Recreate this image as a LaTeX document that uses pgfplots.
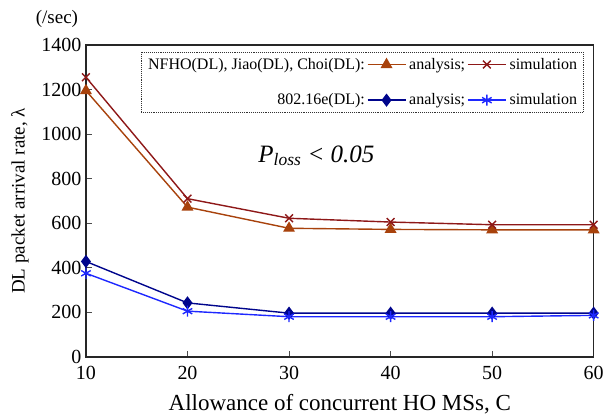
\documentclass[border=0pt]{standalone}
\usepackage{pgfplots}
\pgfplotsset{compat=1.18}
\usepackage{fontspec}
\setmainfont{Liberation Serif}
\definecolor{brnA}{HTML}{A8420C}
\definecolor{redS}{HTML}{8E1818}
\definecolor{navA}{HTML}{00058C}
\definecolor{bluS}{HTML}{1E28FF}

\begin{document}
\begin{tikzpicture}
\begin{axis}[
    scale only axis,
    width=508pt, height=312pt,
    clip=false,
    xmin=10, xmax=60, ymin=0, ymax=1400,
    xtick={10,20,...,60}, ytick={0,200,...,1400},
    xticklabels={10,20,30,40,50,60},
    yticklabels={0,200,400,600,800,1000,1200,1400},
    tick pos=left, tick align=inside,
    major tick length=6pt,
    axis line style={line width=1.5pt, black!85},
    tick style={line width=0.8pt, black!70},
    tick label style={font=\fontsize{20}{20}\selectfont},
    xticklabel style={yshift=-6pt},
    yticklabel style={xshift=-1pt},
    xlabel={Allowance of concurrent HO MSs, C},
    ylabel={DL packet arrival rate, λ},
    xlabel style={font=\fontsize{23}{23}\selectfont, yshift=-8pt},
    ylabel style={font=\fontsize{19}{19}\selectfont, yshift=6pt},
    legend columns=3,
    legend cell align=right,
    legend style={at={(0.980,0.978)}, anchor=north east,
        draw=black!80, densely dotted, line width=0.9pt,
        font=\fontsize{16}{16}\selectfont,
        row sep=19pt, column sep=1pt, inner sep=4pt,
        /tikz/every even column/.append style={column sep=0pt}},
    legend image code/.code={\draw[mark repeat=2,mark phase=2,solid,#1]
        plot coordinates {(0pt,0pt) (19pt,0pt) (38pt,0pt)};},
    every axis plot/.append style={line width=1.4pt},
]
\addlegendimage{empty legend}
\addlegendentry{NFHO(DL), Jiao(DL), Choi(DL):}
\addplot[brnA, mark=triangle*, mark size=5.5pt] coordinates {
    (10,1195) (20,672) (30,577) (40,572) (50,570) (60,570)};
\addlegendentry{analysis;}
\addplot[redS, mark=x, mark size=5.5pt, mark options={line width=1.4pt}] coordinates {
    (10,1255) (20,710) (30,622) (40,605) (50,593) (60,593)};
\addlegendentry{simulation}
\addlegendimage{empty legend}
\addlegendentry{802.16e(DL):}
\addplot[navA, mark=diamond*, mark size=5.5pt] coordinates {
    (10,428) (20,242) (30,196) (40,196) (50,196) (60,196)};
\addlegendentry{analysis;}
\addplot[bluS, mark=asterisk, mark size=5.5pt, mark options={line width=1.4pt}] coordinates {
    (10,375) (20,205) (30,180) (40,180) (50,180) (60,186)};
\addlegendentry{simulation}
\node[font=\fontsize{25}{25}\selectfont\itshape] at (axis cs:32.7,902)
    {P\textsubscript{loss} {<} 0.05};
\node[font=\fontsize{19}{19}\selectfont] at (axis description cs:0,1)
    [xshift=-29pt, yshift=26pt] {(/sec)};
\end{axis}
\path ([xshift=-86pt,yshift=-61pt]current axis.south west) rectangle
      ([xshift=13pt,yshift=45pt]current axis.north east);
\end{tikzpicture}
\end{document}
